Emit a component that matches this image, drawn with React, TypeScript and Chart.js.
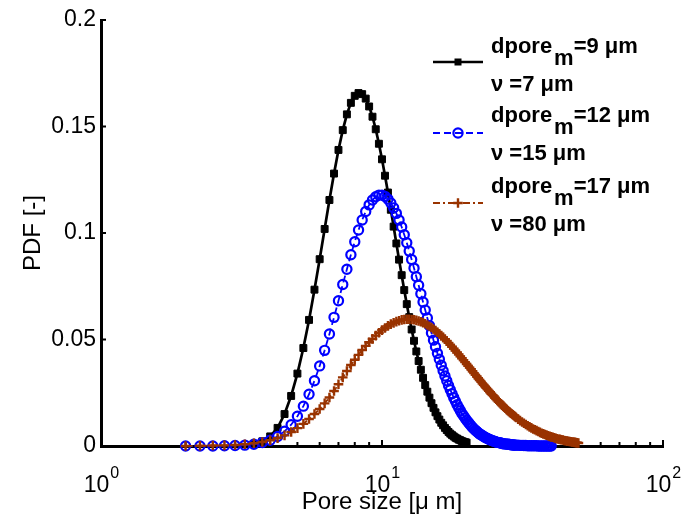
import React, { useEffect, useRef } from 'react';
import { Chart, registerables } from 'chart.js';

Chart.register(...registerables);

// Pore size grid [µm]
const poreSize = [
  2, 2.25, 2.5, 2.75, 3, 3.25, 3.5, 3.75, 4, 4.25,
  4.5, 4.75, 5, 5.25, 5.5, 5.75, 6, 6.25, 6.5, 6.75,
  7, 7.25, 7.5, 7.75, 8, 8.25, 8.5, 8.75, 9, 9.25,
  9.5, 9.75, 10, 10.25, 10.5, 10.75, 11, 11.25, 11.5, 11.75,
  12, 12.25, 12.5, 12.75, 13, 13.25, 13.5, 13.75, 14, 14.25,
  14.5, 14.75, 15, 15.25, 15.5, 15.75, 16, 16.25, 16.5, 16.75,
  17, 17.25, 17.5, 17.75, 18, 18.25, 18.5, 18.75, 19, 19.25,
  19.5, 19.75, 20,
  20.25, 20.5, 20.75, 21, 21.25, 21.5, 21.75, 22, 22.25, 22.5,
  22.75, 23, 23.25, 23.5, 23.75, 24, 24.25, 24.5, 24.75, 25,
  25.25, 25.5, 25.75, 26, 26.25, 26.5, 26.75, 27, 27.25, 27.5,
  27.75, 28, 28.25, 28.5, 28.75, 29, 29.25, 29.5, 29.75, 30,
  30.5, 31, 31.5, 32, 32.5, 33, 33.5, 34, 34.5, 35,
  35.5, 36, 36.5, 37, 37.5, 38, 38.5, 39, 39.5, 40,
  40.5, 41, 41.5, 42, 42.5, 43, 43.5, 44, 44.5, 45,
  45.5, 46, 46.5, 47, 47.5, 48, 48.5, 49, 49.5, 50,
];

// dpore_m = 9 µm, ν = 7 µm (black)
const pdfDpore9 = [
  null, null, null, null, null, null, 0.0010, 0.0022, 0.0045, 0.0085,
  0.0150, 0.0235, 0.0340, 0.0460, 0.0592, 0.0734, 0.0877, 0.1019, 0.1155, 0.1279,
  0.1390, 0.1483, 0.1557, 0.1611, 0.1644, 0.1657, 0.1652, 0.1631, 0.1594, 0.1546,
  0.1487, 0.1419, 0.1346, 0.1269, 0.1190, 0.1109, 0.1030, 0.0951, 0.0875, 0.0802,
  0.0732, 0.0666, 0.0605, 0.0547, 0.0494, 0.0444, 0.0399, 0.0358, 0.0320, 0.0286,
  0.0255, 0.0227, 0.0201, 0.0179, 0.0158, 0.0140, 0.0124, 0.0109, 0.0097, 0.0085,
  0.0075, 0.0066, 0.0058, 0.0051, 0.0045, 0.0039, 0.0035, 0.0030, 0.0027, 0.0023,
  0.0020, 0.0018, 0.0016,
];

// dpore_m = 12 µm, ν = 15 µm (blue)
const pdfDpore12 = [
  0, 0, 0, 0.0001, 0.0002, 0.0004, 0.0008, 0.0016, 0.0027, 0.0045,
  0.0069, 0.0100, 0.0140, 0.0187, 0.0243, 0.0306, 0.0376, 0.0449, 0.0526, 0.0604,
  0.0682, 0.0758, 0.0830, 0.0898, 0.0959, 0.1014, 0.1061, 0.1101, 0.1132, 0.1155,
  0.1170, 0.1178, 0.1178, 0.1172, 0.1159, 0.1141, 0.1118, 0.1092, 0.1061, 0.1028,
  0.0992, 0.0954, 0.0915, 0.0876, 0.0835, 0.0795, 0.0755, 0.0715, 0.0676, 0.0638,
  0.0601, 0.0565, 0.0531, 0.0497, 0.0466, 0.0435, 0.0407, 0.0379, 0.0353, 0.0329,
  0.0306, 0.0284, 0.0264, 0.0245, 0.0227, 0.0210, 0.0194, 0.0180, 0.0166, 0.0153,
  0.0142, 0.0131, 0.0121,
  0.0112, 0.0103, 0.0095, 0.0087, 0.0080, 0.0074, 0.0068, 0.0062, 0.0057, 0.0053,
  0.0049, 0.0045, 0.0041, 0.0038, 0.0035, 0.0032, 0.0029, 0.0027, 0.0025, 0.0023,
  0.0021, 0.0019, 0.0017, 0.0016, 0.0015, 0.0014, 0.0012, 0.0011, 0.0010, 0.0010,
  0.0009, 0.0008, 0.0008, 0.0007, 0.0006, 0.0006, 0.0005, 0.0005, 0.0004, 0.0004,
  0.0004, 0.0003, 0.0003, 0.0002, 0.0002, 0.0001, 0.0001, 0.0001, 0.0001, 0.0001,
  0.0001, 0, 0, 0, 0, 0, 0, 0, 0, 0,
];

// dpore_m = 17 µm, ν = 80 µm (brown)
const pdfDpore17 = [
  0, 0.0001, 0.0002, 0.0003, 0.0005, 0.0008, 0.0013, 0.0019, 0.0027, 0.0037,
  0.0050, 0.0066, 0.0084, 0.0104, 0.0127, 0.0150, 0.0174, 0.0200, 0.0228, 0.0258,
  0.0290, 0.0322, 0.0352, 0.0380, 0.0405, 0.0428, 0.0451, 0.0470, 0.0487, 0.0503,
  0.0518, 0.0532, 0.0544, 0.0554, 0.0564, 0.0572, 0.0578, 0.0584, 0.0588, 0.0592,
  0.0594, 0.0595, 0.0595, 0.0594, 0.0593, 0.0590, 0.0587, 0.0583, 0.0579, 0.0574,
  0.0568, 0.0562, 0.0556, 0.0549, 0.0542, 0.0534, 0.0526, 0.0518, 0.0510, 0.0501,
  0.0493, 0.0484, 0.0475, 0.0466, 0.0457, 0.0448, 0.0439, 0.0430, 0.0421, 0.0412,
  0.0403, 0.0394, 0.0385,
  0.0376, 0.0368, 0.0360, 0.0351, 0.0342, 0.0334, 0.0326, 0.0318, 0.0310, 0.0302,
  0.0294, 0.0287, 0.0280, 0.0273, 0.0266, 0.0259, 0.0252, 0.0245, 0.0239, 0.0233,
  0.0226, 0.0220, 0.0214, 0.0209, 0.0203, 0.0198, 0.0192, 0.0187, 0.0182, 0.0177,
  0.0172, 0.0167, 0.0162, 0.0158, 0.0154, 0.0150, 0.0146, 0.0142, 0.0138, 0.0134,
  0.0126, 0.0119, 0.0113, 0.0107, 0.0101, 0.0095, 0.0090, 0.0085, 0.0080, 0.0076,
  0.0072, 0.0068, 0.0064, 0.0060, 0.0057, 0.0054, 0.0051, 0.0048, 0.0045, 0.0043,
  0.0041, 0.0039, 0.0036, 0.0034, 0.0032, 0.0031, 0.0029, 0.0028, 0.0026, 0.0025,
  0.0023, 0.0022, 0.0021, 0.0020, 0.0019, 0.0018, 0.0017, 0.0016, 0.0015, 0.0014,
];

const yTicks = [0, 0.05, 0.1, 0.15, 0.2];
const yTickLabels = ['0', '0.05', '0.1', '0.15', '0.2'];
const xMajorTicks = [1, 10, 100];
const xMajorExponents = ['0', '1', '2'];
const xMinorTicks = [2, 3, 4, 5, 6, 7, 8, 9, 20, 30, 40, 50, 60, 70, 80, 90];

const xTitle = 'Pore size [\u03bc m]';
const yTitle = 'PDF [-]';

const legendNames = ['dpore', 'dpore', 'dpore'];
const legendSubs = ['m', 'm', 'm'];
const legendMeans = ['=9 \u03bcm', '=12 \u03bcm', '=17 \u03bcm'];
const legendVars = ['\u03bd =7 \u03bcm', '\u03bd =15 \u03bcm', '\u03bd =80 \u03bcm'];

const COLORS = ['#000000', '#0000ff', '#993300'];
const FONT = '"Liberation Sans", Arial, Helvetica, sans-serif';

function toPoints(vals: (number | null)[]) {
  return vals.map((y, i) => ({ x: poreSize[i], y }));
}

function drawMarker(ctx: CanvasRenderingContext2D, kind: number, x: number, y: number) {
  ctx.save();
  ctx.setLineDash([]);
  if (kind === 0) {
    ctx.fillStyle = COLORS[0];
    ctx.fillRect(x - 3.5, y - 3.5, 7, 7);
  } else if (kind === 1) {
    ctx.strokeStyle = COLORS[1];
    ctx.lineWidth = 2.2;
    ctx.beginPath();
    ctx.arc(x, y, 4.6, 0, Math.PI * 2);
    ctx.stroke();
  } else {
    ctx.strokeStyle = COLORS[2];
    ctx.lineWidth = 2.4;
    ctx.beginPath();
    ctx.moveTo(x - 4.8, y);
    ctx.lineTo(x + 4.8, y);
    ctx.moveTo(x, y - 4.8);
    ctx.lineTo(x, y + 4.8);
    ctx.stroke();
  }
  ctx.restore();
}

const decorPlugin = {
  id: 'decor',
  beforeDatasetsDraw(chart: any) {
    const ctx: CanvasRenderingContext2D = chart.ctx;
    const xs = chart.scales.x;
    const ys = chart.scales.y;
    const { left, bottom } = chart.chartArea;
    ctx.save();
    ctx.strokeStyle = '#000';
    ctx.lineWidth = 2;
    ctx.beginPath();
    yTicks.forEach((v) => {
      const py = ys.getPixelForValue(v);
      ctx.moveTo(left, py);
      ctx.lineTo(left + 5, py);
    });
    xMajorTicks.forEach((v) => {
      const px = xs.getPixelForValue(v);
      ctx.moveTo(px, bottom);
      ctx.lineTo(px, bottom - 6);
    });
    xMinorTicks.forEach((v) => {
      const px = xs.getPixelForValue(v);
      ctx.moveTo(px, bottom);
      ctx.lineTo(px, bottom - 4);
    });
    ctx.stroke();
    ctx.restore();
  },
  afterDraw(chart: any) {
    const ctx: CanvasRenderingContext2D = chart.ctx;
    const xs = chart.scales.x;
    const { left, right, top, bottom } = chart.chartArea;
    ctx.save();
    ctx.fillStyle = '#000';
    ctx.textBaseline = 'alphabetic';

    // x tick labels 10^n
    xMajorTicks.forEach((v, i) => {
      const px = xs.getPixelForValue(v);
      ctx.font = `23px ${FONT}`;
      const w1 = ctx.measureText('10').width;
      ctx.font = `16px ${FONT}`;
      const w2 = ctx.measureText(xMajorExponents[i]).width;
      const x0 = px - (w1 + w2) / 2;
      ctx.font = `23px ${FONT}`;
      ctx.textAlign = 'left';
      ctx.fillText('10', x0, bottom + 46);
      ctx.font = `16px ${FONT}`;
      ctx.fillText(xMajorExponents[i], x0 + w1 + 1, bottom + 32);
    });

    // axis titles
    ctx.font = `24px ${FONT}`;
    ctx.textAlign = 'center';
    ctx.fillText(xTitle, (left + right) / 2, 509);
    ctx.save();
    ctx.translate(40, (top + bottom) / 2);
    ctx.rotate(-Math.PI / 2);
    ctx.fillText(yTitle, 0, 0);
    ctx.restore();

    // legend
    const baseY = [53, 122, 193];
    const lineY = [62, 133, 203];
    const dashes = [[], [7, 4], [7, 3, 2, 3]];
    const widths = [2.5, 1.8, 1.8];
    for (let i = 0; i < 3; i++) {
      ctx.save();
      ctx.strokeStyle = COLORS[i];
      ctx.lineWidth = widths[i];
      ctx.setLineDash(dashes[i]);
      ctx.beginPath();
      ctx.moveTo(433, lineY[i]);
      ctx.lineTo(483, lineY[i]);
      ctx.stroke();
      ctx.restore();
      drawMarker(ctx, i, 458, lineY[i]);

      ctx.font = `bold 22px ${FONT}`;
      ctx.textAlign = 'left';
      ctx.fillStyle = '#000';
      let x = 491;
      ctx.fillText(legendNames[i], x, baseY[i]);
      x += ctx.measureText(legendNames[i]).width + 2;
      ctx.fillText(legendSubs[i], x, baseY[i] + 11.5);
      x += ctx.measureText(legendSubs[i]).width;
      ctx.fillText(legendMeans[i], x, baseY[i]);
      ctx.fillText(legendVars[i], 491, baseY[i] + 38);
    }
    ctx.restore();
  },
};

export default function App() {
  const ref = useRef<HTMLCanvasElement | null>(null);

  useEffect(() => {
    document.body.style.margin = '0';
    const canvas = ref.current!;
    const chart = new Chart(canvas, {
      type: 'line',
      data: {
        datasets: [
          {
            label: 'dpore_m=9 µm, ν=7 µm',
            data: toPoints(pdfDpore9),
            borderColor: COLORS[0],
            backgroundColor: COLORS[0],
            borderWidth: 2.7,
            pointStyle: 'rect',
            pointRadius: 4.9,
            pointBorderWidth: 1,
            pointBackgroundColor: COLORS[0],
            pointBorderColor: COLORS[0],
            tension: 0,
            clip: false as any,
            order: 3,
          },
          {
            label: 'dpore_m=12 µm, ν=15 µm',
            data: toPoints(pdfDpore12),
            borderColor: COLORS[1],
            backgroundColor: 'rgba(0,0,0,0)',
            borderWidth: 1.8,
            borderDash: [7, 4],
            pointStyle: 'circle',
            pointRadius: 4.6,
            pointBorderWidth: 2.2,
            pointBackgroundColor: 'rgba(0,0,0,0)',
            pointBorderColor: COLORS[1],
            tension: 0,
            clip: false as any,
            order: 2,
          },
          {
            label: 'dpore_m=17 µm, ν=80 µm',
            data: toPoints(pdfDpore17),
            borderColor: COLORS[2],
            backgroundColor: COLORS[2],
            borderWidth: 1.8,
            borderDash: [7, 3, 2, 3],
            pointStyle: 'cross',
            pointRadius: 4.8,
            pointBorderWidth: 2.4,
            pointBorderColor: COLORS[2],
            tension: 0,
            clip: false as any,
            order: 1,
          },
        ],
      },
      options: {
        animation: false,
        responsive: false,
        devicePixelRatio: 1,
        events: [],
        layout: { padding: { left: 0, top: 20, right: 21, bottom: 0 } },
        plugins: {
          legend: { display: false },
          tooltip: { enabled: false },
        },
        scales: {
          x: {
            type: 'logarithmic',
            min: 1,
            max: 100,
            grid: { display: false, drawTicks: false },
            border: { display: true, color: '#000', width: 3 },
            ticks: { display: false },
            afterFit: (s: any) => {
              s.height = 68;
            },
          },
          y: {
            type: 'linear',
            min: 0,
            max: 0.2,
            grid: { display: false, drawTicks: false },
            border: { display: true, color: '#000', width: 3 },
            afterBuildTicks: (s: any) => {
              s.ticks = yTicks.map((v) => ({ value: v }));
            },
            ticks: {
              color: '#000',
              padding: 5,
              font: { family: FONT, size: 23 },
              callback: (v: any) => {
                const idx = yTicks.findIndex((t) => Math.abs(t - Number(v)) < 1e-9);
                return idx >= 0 ? yTickLabels[idx] : '';
              },
            },
            afterFit: (s: any) => {
              s.width = 101;
            },
          },
        },
      } as any,
      plugins: [decorPlugin],
    });
    return () => chart.destroy();
  }, []);

  return (
    <div style={{ width: 684, height: 514 }}>
      <canvas ref={ref} width={684} height={514} style={{ display: 'block' }} />
    </div>
  );
}
